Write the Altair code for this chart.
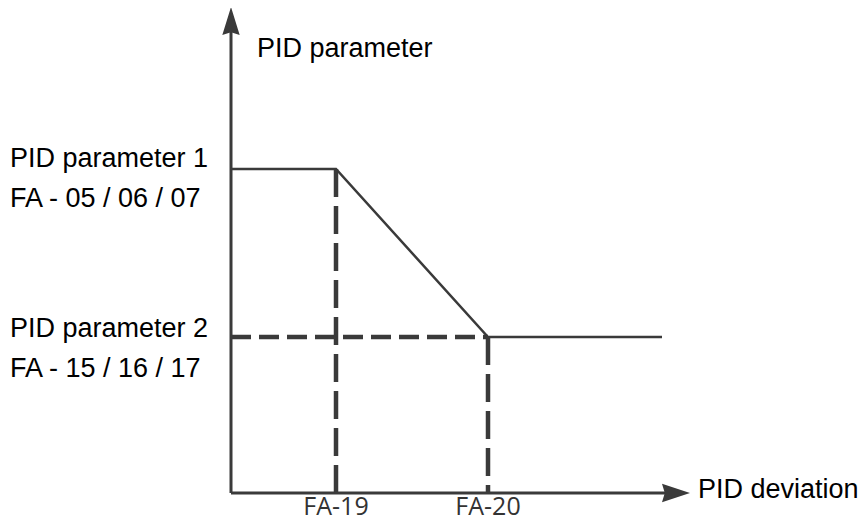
import altair as alt
import pandas as pd

# ---- diagram values (origin of the axes = 0) ----
fa19 = 105          # FA-19 deviation
fa20 = 257          # FA-20 deviation
x_end = 431         # end of the curve
x_axis_end = 444    # x-axis arrow
p1 = 324            # PID parameter 1
p2 = 156            # PID parameter 2
y_axis_end = 472    # y-axis arrow

curve_x = [0, fa19, fa20, x_end]
curve_y = [p1, p1, p2, p2]

tick_labels = ["FA-19", "FA-20"]
tick_pos = [fa19, fa20]

left_labels = ["PID parameter 1", "FA - 05 / 06 / 07", "PID parameter 2", "FA - 15 / 16 / 17"]
left_label_y = [p1 + 2, p1 - 38, p2, p2 - 40]

INK = "#3a3a3a"
FONT = "Liberation Sans"

xs = alt.Scale(domain=[-223, 627], nice=False, zero=False)
ys = alt.Scale(domain=[-30, 485], nice=False, zero=False)

def X(f="x"):
    return alt.X(f"{f}:Q", scale=xs, axis=None)

def Y(f="y"):
    return alt.Y(f"{f}:Q", scale=ys, axis=None)

# axes
axes_v = pd.DataFrame({"x": [0], "y": [0], "y2": [y_axis_end]})
axes_h = pd.DataFrame({"x": [0], "x2": [x_axis_end], "y": [0]})
y_axis = alt.Chart(axes_v).mark_rule(color=INK, strokeWidth=3).encode(
    x=X(), y=Y(), y2="y2:Q")
x_axis = alt.Chart(axes_h).mark_rule(color=INK, strokeWidth=3).encode(
    x=X(), x2="x2:Q", y=Y())

up_arrow = alt.Chart(pd.DataFrame({"x": [0], "y": [y_axis_end]})).mark_point(
    shape="M0,-1L0.62,1L0,0.8L-0.62,1Z", size=784, filled=True, opacity=1, color=INK
).encode(x=X(), y=Y())
right_arrow = alt.Chart(pd.DataFrame({"x": [x_axis_end + 1], "y": [0]})).mark_point(
    shape="M1,0L-1,0.66L-0.8,0L-1,-0.66Z", size=784, filled=True, opacity=1, color=INK
).encode(x=X(), y=Y())

# curve
curve_df = pd.DataFrame({"x": curve_x, "y": curve_y, "o": list(range(len(curve_x)))})
curve = alt.Chart(curve_df).mark_line(color=INK, strokeWidth=2.5).encode(
    x=X(), y=Y(), order="o:Q")

# dashed guides
dv = pd.DataFrame({"x": [fa19, fa20], "y": [p1, p2], "y2": [0, 0]})
dh = pd.DataFrame({"x": [0], "x2": [fa20], "y": [p2]})
dash_v = alt.Chart(dv).mark_rule(color=INK, strokeWidth=4.5, strokeDash=[28, 9]).encode(
    x=X(), y=Y(), y2="y2:Q")
dash_h = alt.Chart(dh).mark_rule(color=INK, strokeWidth=4.5, strokeDash=[20, 8]).encode(
    x=X(), x2="x2:Q", y=Y())

# texts
left_df = pd.DataFrame({"x": [-221] * 4, "y": left_label_y, "t": left_labels})
left_text = alt.Chart(left_df).mark_text(
    align="left", baseline="alphabetic", font=FONT, fontSize=27, color="black"
).encode(x=X(), y=Y(), text="t:N")

title_df = pd.DataFrame({"x": [26, 467], "y": [436, -5], "t": ["PID parameter", "PID deviation"]})
title_text = alt.Chart(title_df).mark_text(
    align="left", baseline="alphabetic", font=FONT, fontSize=27, color="black"
).encode(x=X(), y=Y(), text="t:N")

tick_df = pd.DataFrame({"x": tick_pos, "y": [-22, -22], "t": tick_labels})
tick_text = alt.Chart(tick_df).mark_text(
    align="center", baseline="alphabetic", font="Open Sans", fontSize=25, color="#333333"
).encode(x=X(), y=Y(), text="t:N")

chart = alt.layer(
    dash_v, dash_h, curve, y_axis, x_axis, up_arrow, right_arrow,
    left_text, title_text, tick_text
).properties(
    width=850, height=515, padding=0, background="white",
    autosize=alt.AutoSizeParams(type="none")
).configure_view(stroke="transparent", strokeWidth=0)

chart.save("out.html", embed_options={"renderer": "svg", "actions": False})
